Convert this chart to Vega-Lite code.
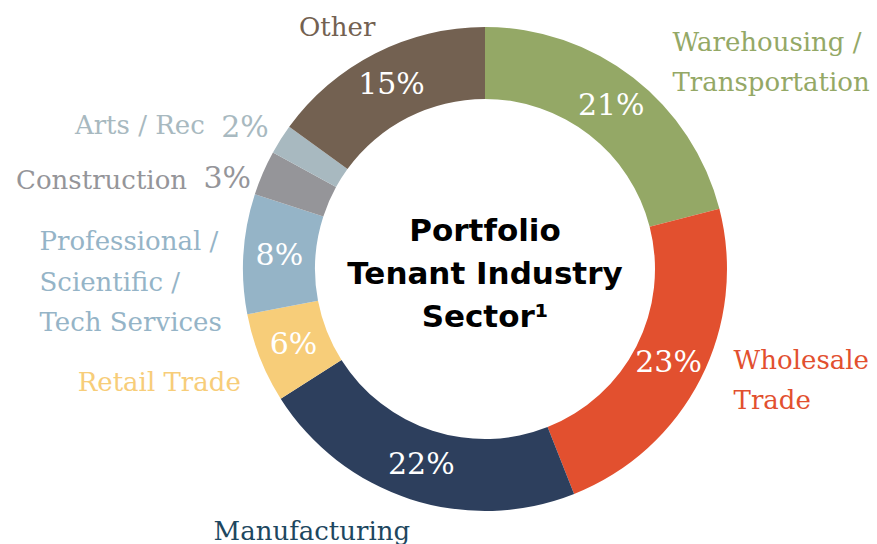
{
  "$schema": "https://vega.github.io/schema/vega-lite/v6.json",
  "width": 784,
  "height": 538,
  "autosize": {"type": "none"},
  "padding": {"left": 93, "top": 0, "right": 0, "bottom": 6},
  "background": "white",
  "config": {"view": {"stroke": null}},
  "layer": [
    {
      "data": {
        "values": [
          {"cat": "Warehousing / Transportation", "label": "Warehousing /\nTransportation", "pct": 0.21, "rank": 1},
          {"cat": "Wholesale Trade", "label": "Wholesale\nTrade", "pct": 0.23, "rank": 2},
          {"cat": "Manufacturing", "label": "Manufacturing", "pct": 0.22, "rank": 3},
          {"cat": "Retail Trade", "label": "Retail Trade", "pct": 0.06, "rank": 4},
          {"cat": "Professional / Scientific / Tech Services", "label": "Professional /\nScientific /\nTech Services", "pct": 0.08, "rank": 5},
          {"cat": "Construction", "label": "Construction", "pct": 0.03, "rank": 6},
          {"cat": "Arts / Rec", "label": "Arts / Rec", "pct": 0.02, "rank": 7},
          {"cat": "Other", "label": "Other", "pct": 0.15, "rank": 8}
        ]
      },
      "encoding": {
        "theta": {"field": "pct", "type": "quantitative", "stack": true},
        "order": {"field": "rank", "type": "quantitative"},
        "detail": {"field": "cat", "type": "nominal"},
        "color": {
          "field": "cat",
          "type": "nominal",
          "legend": null,
          "scale": {
            "domain": ["Warehousing / Transportation", "Wholesale Trade", "Manufacturing", "Retail Trade", "Professional / Scientific / Tech Services", "Construction", "Arts / Rec", "Other"],
            "range": ["#94A866", "#E2502F", "#2D3F5D", "#F7CD79", "#95B4C7", "#959599", "#A8B9C0", "#736151"]
          }
        }
      },
      "layer": [
        {"mark": {"type": "arc", "outerRadius": 242, "innerRadius": 170}},
        {
          "mark": {"type": "text", "radius": 206, "font": "DejaVu Serif", "fontSize": 30, "baseline": "middle", "align": "center"},
          "encoding": {
            "color": {"value": "white"},
            "text": {"condition": {"test": "datum.pct >= 0.05", "field": "pct", "type": "quantitative", "format": ".0%"}, "value": ""}
          }
        },
        {
          "mark": {"type": "text", "radius": 270, "dx": 22, "dy": -13, "font": "DejaVu Serif", "fontSize": 26, "lineHeight": 40, "lineBreak": "\n", "align": "left", "baseline": "middle"},
          "encoding": {"text": {"condition": {"test": "datum.rank == 1", "field": "label"}, "value": ""}}
        },
        {
          "mark": {"type": "text", "radius": 270, "dx": 8, "dy": -31, "font": "DejaVu Serif", "fontSize": 26, "lineHeight": 40, "lineBreak": "\n", "align": "left", "baseline": "middle"},
          "encoding": {"text": {"condition": {"test": "datum.rank == 2", "field": "label"}, "value": ""}}
        },
        {
          "mark": {"type": "text", "radius": 268, "dx": 8, "dy": 8, "font": "DejaVu Serif", "fontSize": 26, "align": "right", "baseline": "middle"},
          "encoding": {
            "color": {"value": "#1D4760"},
            "text": {"condition": {"test": "datum.rank == 3", "field": "label"}, "value": ""}
          }
        },
        {
          "mark": {"type": "text", "radius": 268, "dx": 5, "dy": 15, "font": "DejaVu Serif", "fontSize": 26, "align": "right", "baseline": "middle"},
          "encoding": {"text": {"condition": {"test": "datum.rank == 4", "field": "label"}, "value": ""}}
        },
        {
          "mark": {"type": "text", "radius": 268, "dx": -178, "dy": -10, "font": "DejaVu Serif", "fontSize": 26, "lineHeight": 40.5, "lineBreak": "\n", "align": "left", "baseline": "middle"},
          "encoding": {"text": {"condition": {"test": "datum.rank == 5", "field": "label"}, "value": ""}}
        },
        {
          "mark": {"type": "text", "radius": 268, "dx": 12, "dy": 16, "font": "DejaVu Serif", "fontSize": 30, "align": "right", "baseline": "middle"},
          "encoding": {"text": {"condition": {"test": "datum.rank == 6", "field": "pct", "type": "quantitative", "format": ".0%"}, "value": ""}}
        },
        {
          "mark": {"type": "text", "radius": 268, "dx": -52, "dy": 18, "font": "DejaVu Serif", "fontSize": 26, "align": "right", "baseline": "middle"},
          "encoding": {"text": {"condition": {"test": "datum.rank == 6", "field": "label"}, "value": ""}}
        },
        {
          "mark": {"type": "text", "radius": 268, "dx": 10, "dy": 3, "font": "DejaVu Serif", "fontSize": 30, "align": "right", "baseline": "middle"},
          "encoding": {"text": {"condition": {"test": "datum.rank == 7", "field": "pct", "type": "quantitative", "format": ".0%"}, "value": ""}}
        },
        {
          "mark": {"type": "text", "radius": 268, "dx": -54, "dy": 1, "font": "DejaVu Serif", "fontSize": 26, "align": "right", "baseline": "middle"},
          "encoding": {"text": {"condition": {"test": "datum.rank == 7", "field": "label"}, "value": ""}}
        },
        {
          "mark": {"type": "text", "radius": 268, "dx": 12, "dy": -2, "font": "DejaVu Serif", "fontSize": 26, "align": "right", "baseline": "middle"},
          "encoding": {"text": {"condition": {"test": "datum.rank == 8", "field": "label"}, "value": ""}}
        }
      ]
    },
    {
      "data": {"values": [{"title": "Portfolio\nTenant Industry\nSector¹"}]},
      "mark": {"type": "text", "font": "DejaVu Sans", "fontWeight": "bold", "fontSize": 31, "lineHeight": 43, "lineBreak": "\n", "dy": -37, "color": "black", "align": "center", "baseline": "middle"},
      "encoding": {"text": {"field": "title", "type": "nominal"}}
    }
  ]
}
